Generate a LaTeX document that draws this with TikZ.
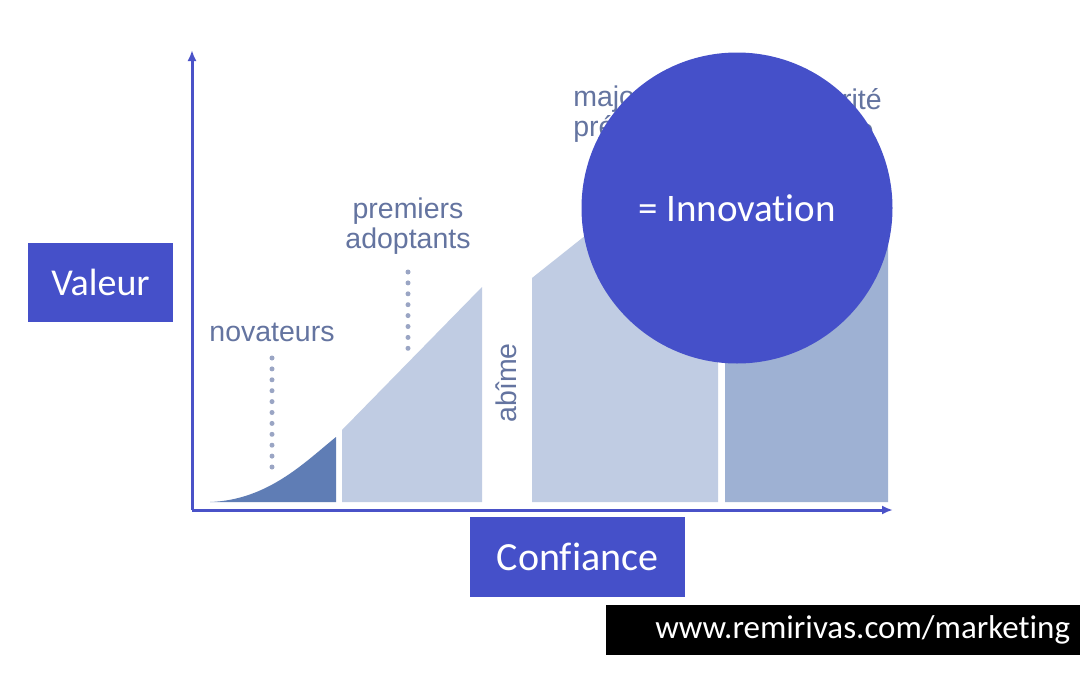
\documentclass[tikz,border=0pt]{standalone}
\usepackage{fontspec}
\setmainfont{Liberation Sans}
\newfontfamily\calibri[Ligatures={NoCommon}]{Carlito}
\usetikzlibrary{arrows.meta,positioning}
\definecolor{axisblue}{RGB}{74,82,200}
\definecolor{boxblue}{RGB}{69,80,201}
\definecolor{darkfill}{RGB}{95,125,181}
\definecolor{lightfill}{RGB}{192,204,227}
\definecolor{midfill}{RGB}{158,177,211}
\definecolor{labelgray}{RGB}{100,116,160}
\definecolor{dotgray}{RGB}{154,165,196}

\begin{document}
\begin{tikzpicture}[
  x=1pt,y=-1pt,
  axisbox/.style={fill=boxblue,text=white,inner sep=0pt,font=\calibri\fontsize{38}{40}\selectfont},
  stage/.style={text=labelgray,align=center,inner sep=0pt,font=\fontsize{28.5}{30}\selectfont},
  leader/.style={dotgray,line width=5pt,line cap=round,dash pattern=on 0pt off 10.9pt},
  axis/.style={axisblue,line width=3pt,-{Latex[length=11pt,width=9pt]}}
]
\useasboundingbox[fill=white] (0,0) rectangle (1080,675);
% axes
\coordinate (origin) at (192,510);
\coordinate (ytop) at (192,50);
\coordinate (xend) at (893,510);
% adoption blocks
\fill[darkfill] (210,502) .. controls (268,500) and (305,462) .. (336,437) -- (336,502) -- cycle;
\fill[lightfill] (342,502) -- (342,430) -- (482,287) -- (482,502) -- cycle;
\fill[lightfill] (532,502) -- (532,278) -- (718,130) -- (718,502) -- cycle;
\fill[midfill] (725,502) -- (725,130) -- (888,200) -- (888,502) -- cycle;
\draw[axis] (origin) -- (ytop);
\draw[axis] (origin) -- (xend);
% stage labels
\node[stage] (novateurs) at (272,332) {novateurs};
\node[stage] (premiers) at (408,226) {premiers\\adoptants};
\node[stage,rotate=90] (abime) at (506,383) {abîme};
\node[stage] (precoce) at (624,114) {majorité\\précoce};
\node[stage] (tardive) at (831,114) {majorité\\tardive};
\coordinate (novtop) at (272,358);
\coordinate (novend) at (272,468);
\coordinate (premtop) at (408,272);
\coordinate (premend) at (408,350);
\draw[leader] (novtop) -- (novend);
\draw[leader] (premtop) -- (premend);
% axis names
\node[axisbox,minimum width=145pt,minimum height=79pt] (valeur) at (100.5,282.5) {Valeur};
\node[axisbox,font=\calibri\fontsize{40}{42}\selectfont,minimum width=215pt,minimum height=80pt] (confiance) at (577.5,557) {Confiance};
\node[circle,fill=boxblue,text=white,minimum size=311pt,inner sep=0pt,font=\calibri\fontsize{39}{41}\selectfont] (innovation) at (737,208) {= Innovation};
\node[fill=black,text=white,text width=454pt,align=right,inner xsep=10pt,minimum height=50pt,inner ysep=0pt,font=\calibri\fontsize{33}{35}\selectfont] (site) at (843,630) {www.remirivas.com/marketing};
\end{tikzpicture}
\end{document}
